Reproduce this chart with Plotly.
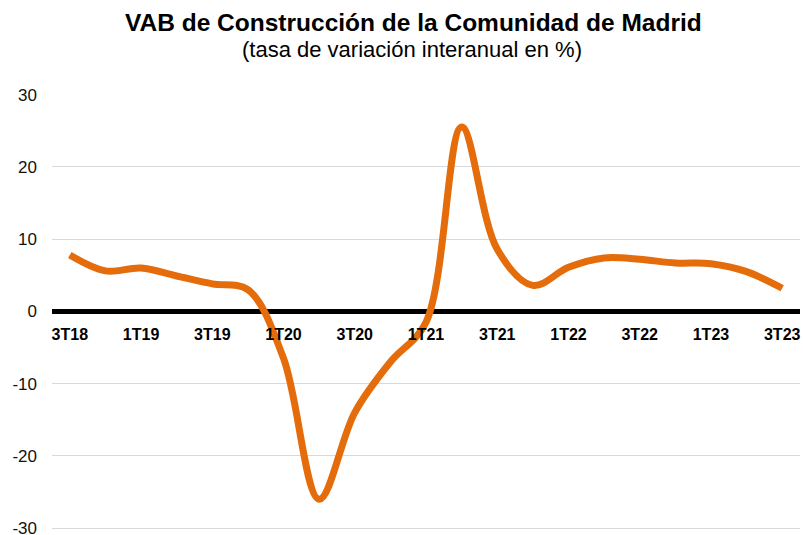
import plotly.graph_objects as go

quarters = ["3T18", "4T18", "1T19", "2T19", "3T19", "4T19", "1T20", "2T20", "3T20", "4T20",
            "1T21", "2T21", "3T21", "4T21", "1T22", "2T22", "3T22", "4T22", "1T23", "2T23", "3T23"]
values = [7.8, 5.6, 6.0, 4.9, 3.8, 3.0, -6.5, -26.0, -14.0, -7.0,
          -1.5, 25.5, 8.6, 3.6, 6.1, 7.4, 7.2, 6.7, 6.6, 5.5, 3.2]
tick_labels = quarters[::2]
y_ticks = [-30, -20, -10, 0, 10, 20, 30]
y_tick_text = ["-30", "-20", "-10", "0", "10", "20", "30"]

title = "VAB de Construcción de la Comunidad de Madrid"
subtitle = "(tasa de variación interanual en %)"

FONT = "Liberation Sans, Arial, Helvetica, sans-serif"

W, H = 803, 535
ML, MR, MT = 52, 3, 94
PH = 436
MB = H - MT - PH
Y_MIN, Y_MAX = -30.25, 30.08

fig = go.Figure()
fig.add_trace(go.Scatter(
    x=quarters, y=values, mode="lines",
    line=dict(color="#E46C0A", width=7, shape="spline", smoothing=1.0),
    hoverinfo="x+y", showlegend=False,
))

fig.update_layout(
    width=W, height=H,
    margin=dict(l=ML, r=MR, t=MT, b=MB, pad=0),
    paper_bgcolor="white", plot_bgcolor="white",
    font=dict(family=FONT, color="#000"),
    xaxis=dict(
        type="category", range=[-0.5, len(quarters) - 0.5],
        tickvals=tick_labels, ticktext=tick_labels,
        showgrid=False, showline=False, zeroline=False,
        anchor="free", position=(0 - Y_MIN) / (Y_MAX - Y_MIN), automargin=False,
        tickfont=dict(family=FONT, size=16, color="#000", weight="bold"),
        ticks="", ticklabelstandoff=12, ticklabeloverflow="allow",
    ),
    yaxis=dict(
        range=[Y_MIN, Y_MAX], tickvals=y_ticks, ticktext=y_tick_text,
        showgrid=True, gridcolor="#d9d9d9", gridwidth=1,
        zeroline=True, zerolinecolor="#000", zerolinewidth=5,
        showline=False, ticks="", automargin=False,
        tickfont=dict(family=FONT, size=17, color="#111"),
        ticklabelstandoff=14, ticklabeloverflow="allow",
    ),
)

pw = W - ML - MR
ph = H - MT - MB


def to_paper(px, py):
    return (px - ML) / pw, (H - MB - py) / ph


tx, ty = to_paper(413, 22)
sx, sy = to_paper(412, 50)
fig.add_annotation(text="<b>" + title + "</b>", x=tx, y=ty, xref="paper", yref="paper",
                   xanchor="center", yanchor="middle", showarrow=False,
                   font=dict(size=24.5, family=FONT, color="#000"))
fig.add_annotation(text=subtitle, x=sx, y=sy, xref="paper", yref="paper",
                   xanchor="center", yanchor="middle", showarrow=False,
                   font=dict(size=22, family=FONT, color="#000"))

fig.write_html("out.html", config={"displayModeBar": False},
               post_script="document.body.style.margin='0';document.body.style.overflow='hidden';")
